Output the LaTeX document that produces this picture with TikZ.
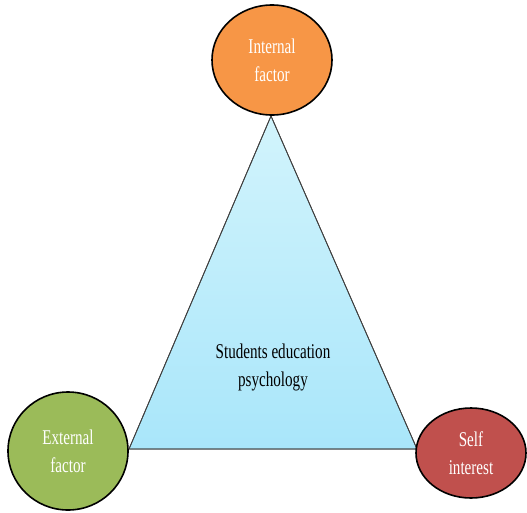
\documentclass[tikz,border=0pt]{standalone}
\usepackage{fontspec}
\setmainfont{Liberation Serif}[FakeStretch=0.72]
\usetikzlibrary{shapes.geometric}
\definecolor{orangeF}{HTML}{F79646}
\definecolor{greenF}{HTML}{9BBB59}
\definecolor{redF}{HTML}{C0504D}
\definecolor{triTop}{HTML}{D2F4FC}
\definecolor{triBot}{HTML}{A9E6FA}
\tikzset{
  x=1pt,y=-1pt,
  bubble/.style={ellipse,draw=black,line width=1.6pt,inner sep=0pt,
    text=white,align=center,font=\fontsize{21}{28}\selectfont},
  tri/.style={draw=black!75,line width=0.8pt,top color=triTop,bottom color=triBot},
  lbl/.style={align=center,font=\fontsize{21}{28}\selectfont,text=black}
}
\begin{document}
\begin{tikzpicture}
\useasboundingbox (0,0) rectangle (527,512);
\coordinate (apex) at (271,116);
\coordinate (bl) at (129,449);
\coordinate (br) at (417,449);
\fill[tri] (apex) -- (br) -- (bl) -- cycle;
\draw[black!75,line width=0.8pt] (apex) -- (br) -- (bl) -- cycle;
\node[lbl] (center) at (273,367) {Students education\\psychology};
\node[bubble,fill=orangeF,minimum width=120pt,minimum height=110pt] (internal) at (272,60) {Internal\\factor};
\node[bubble,fill=greenF,minimum width=120pt,minimum height=118pt] (external) at (68,451) {External\\factor};
\node[bubble,fill=redF,minimum width=110pt,minimum height=90pt] (self) at (471,453) {Self\\interest};
\end{tikzpicture}
\end{document}
